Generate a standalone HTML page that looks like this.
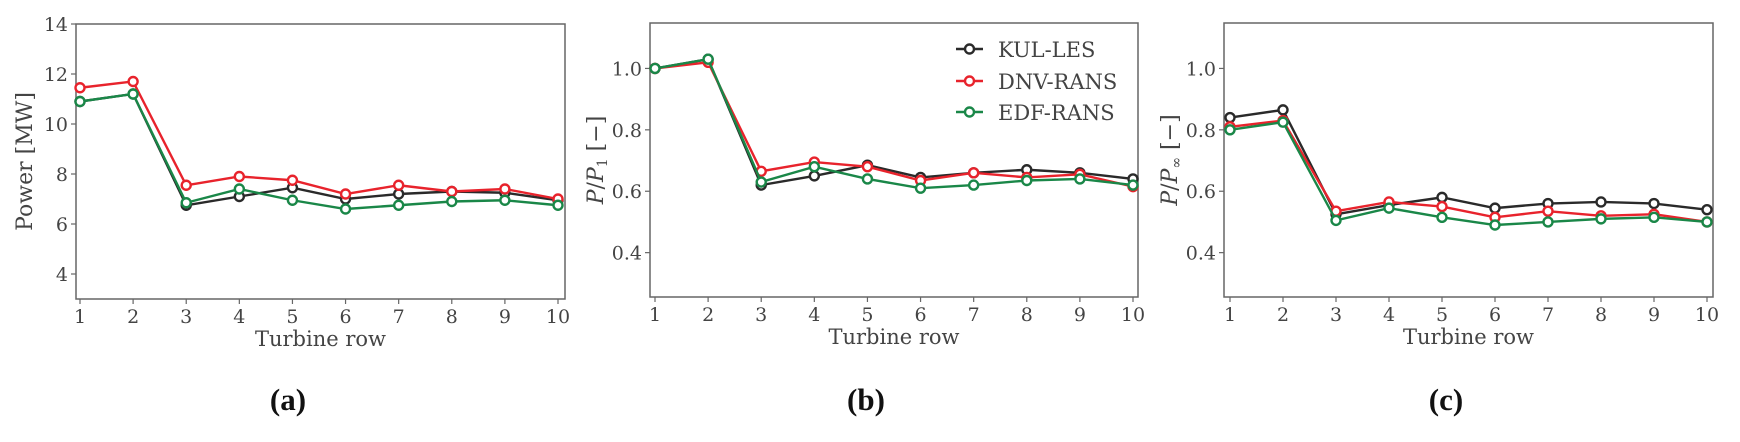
<!DOCTYPE html>
<html><head><meta charset="utf-8"><style>
html,body{margin:0;padding:0;background:#fff;}
svg{display:block;font-family:"DejaVu Serif","Liberation Serif",serif;}
.tick{font-size:19px;fill:#444;}
.xt{font-size:21px;fill:#444;}
.lab{font-size:31px;font-weight:bold;fill:#111;font-family:"Liberation Serif",serif;}
</style></head><body>
<svg id="fig" width="1740" height="442"></svg>
<script>
const rows=[1,2,3,4,5,6,7,8,9,10];
const seriesNames=["KUL-LES","DNV-RANS","EDF-RANS"];
const seriesColors=["#2a2a2a","#e8232c","#1a8748"];
const aKUL=[10.9,11.2,6.75,7.1,7.45,7.0,7.2,7.3,7.25,6.95];
const aDNV=[11.45,11.7,7.55,7.9,7.75,7.2,7.55,7.3,7.4,7.0];
const aEDF=[10.9,11.2,6.85,7.4,6.95,6.6,6.75,6.9,6.95,6.75];
const bKUL=[1.0,1.03,0.62,0.65,0.685,0.645,0.66,0.67,0.66,0.64];
const bDNV=[1.0,1.02,0.665,0.695,0.68,0.635,0.66,0.645,0.655,0.615];
const bEDF=[1.0,1.03,0.63,0.68,0.64,0.61,0.62,0.635,0.64,0.62];
const cKUL=[0.84,0.865,0.525,0.555,0.58,0.545,0.56,0.565,0.56,0.54];
const cDNV=[0.81,0.83,0.535,0.565,0.55,0.515,0.535,0.52,0.525,0.5];
const cEDF=[0.80,0.825,0.505,0.545,0.515,0.49,0.50,0.51,0.515,0.50];
const aTicks=[4,6,8,10,12,14];
const bTicks=[0.4,0.6,0.8,1.0];
const NS="http://www.w3.org/2000/svg";
const svg=document.getElementById('fig');
function mk(t,a,p){const e=document.createElementNS(NS,t);for(const k in a)e.setAttribute(k,a[k]);(p||svg).appendChild(e);return e;}
function panel(id,L,T,R,B,x1,x10,ymin,ymax,ticks,fmt,data,ylabelHTML,ylx,letter,lx){
  const g=mk('g',{});
  
  
  const xs=v=>x1+(v-1)*(x10-x1)/9;
  const ys=v=>B-(v-ymin)*(B-T)/(ymax-ymin);
  const fr=mk('rect',{x:L,y:T,width:R-L,height:B-T,fill:'none',stroke:'#666','stroke-width':1.5},g);
  
  
  rows.forEach(r=>{
    mk('line',{x1:xs(r),x2:xs(r),y1:B,y2:B+5,stroke:'#666','stroke-width':1.2},g);
    const t=mk('text',{x:xs(r),y:B+24,'text-anchor':'middle',class:'tick'},g);t.textContent=r;
    
    
  });
  ticks.forEach(v=>{
    mk('line',{x1:L-5,x2:L,y1:ys(v),y2:ys(v),stroke:'#666','stroke-width':1.2},g);
    const t=mk('text',{x:L-8,y:ys(v)+7,'text-anchor':'end',class:'tick'},g);t.textContent=fmt(v);
    
    
  });
  data.forEach((d,i)=>{
    const pts=d.map((v,j)=>xs(rows[j])+','+ys(v)).join(' ');
    const pl=mk('polyline',{points:pts,fill:'none',stroke:seriesColors[i],'stroke-width':2.4},g);
    
    
    d.forEach((v,j)=>{
      const c=mk('circle',{cx:xs(rows[j]),cy:ys(v),r:4.5,fill:'#fff',stroke:seriesColors[i],'stroke-width':2.4},g);
      
      
    });
  });
  const xt=mk('text',{x:(L+R)/2,y:B+47,'text-anchor':'middle',class:'xt'},g);xt.textContent='Turbine row';
  
  
  const yt=mk('text',{x:0,y:0,'text-anchor':'middle',transform:`translate(${ylx},${(T+B)/2}) rotate(-90)`,'font-size':22,fill:'#444'},g);
  yt.innerHTML=ylabelHTML;
  
  
  const lt=mk('text',{x:lx,y:410,'text-anchor':'middle',class:'lab'},g);lt.textContent=letter;
  
  
}
panel('a',76,24,565,299,80,558,3,14,aTicks,v=>String(v),[aKUL,aDNV,aEDF],'Power [MW]',32,'(a)',288);
panel('b',650,23,1138,297,655,1133,0.2555,1.148,bTicks,v=>v.toFixed(1),[bKUL,bDNV,bEDF],'<tspan font-style="italic">P</tspan>/<tspan font-style="italic">P</tspan><tspan font-size="14" dy="4">1</tspan><tspan dy="-4"> [−]</tspan>',603,'(b)',866);
panel('c',1224,23,1713,297,1230,1707,0.2555,1.148,bTicks,v=>v.toFixed(1),[cKUL,cDNV,cEDF],'<tspan font-style="italic">P</tspan>/<tspan font-style="italic">P</tspan><tspan font-size="14" dy="4">∞</tspan><tspan dy="-4"> [−]</tspan>',1177,'(c)',1446);
const lg=mk('g',{});


const legY=[49,81,112];
seriesNames.forEach((n,i)=>{
  const e=mk('g',{},lg);
  
  
  mk('line',{x1:956,x2:983,y1:legY[i],y2:legY[i],stroke:seriesColors[i],'stroke-width':2.4},e);
  mk('circle',{cx:969.5,cy:legY[i],r:4.5,fill:'#fff',stroke:seriesColors[i],'stroke-width':2.4},e);
  const t=mk('text',{x:998,y:legY[i]+8,'font-size':21,fill:'#444'},e);t.textContent=n;
});
</script>
</body></html>
